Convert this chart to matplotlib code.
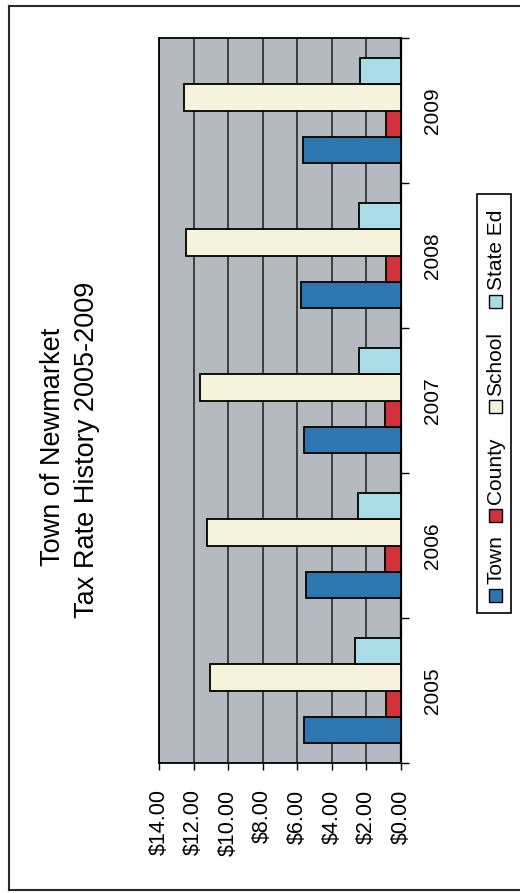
import matplotlib

matplotlib.use("Agg")
import matplotlib.pyplot as plt  # noqa: E402
import numpy as np  # noqa: E402
from matplotlib.lines import Line2D  # noqa: E402
from matplotlib.patches import Rectangle  # noqa: E402

plt.rcParams["font.family"] = ["Liberation Sans", "DejaVu Sans"]

# chart data ($ per $1000)
years = ["2005", "2006", "2007", "2008", "2009"]
series = ["Town", "County", "School", "State Ed"]
town = [5.60, 5.50, 5.60, 5.80, 5.65]
county = [0.88, 0.90, 0.90, 0.85, 0.85]
school = [11.05, 11.25, 11.65, 12.45, 12.55]
state_ed = [2.65, 2.50, 2.42, 2.45, 2.40]
value_ticks = [0, 2, 4, 6, 8, 10, 12, 14]

colors = ["#2e76b0", "#d2323c", "#f5f3dc", "#aadce8"]
W, H = 520, 893  # output size in px


def fx(x):
    return x / W


def fy(y):
    # image y (from top) -> figure fraction
    return 1 - y / H


fig = plt.figure(figsize=(W / 100, H / 100), dpi=100)
fig.patch.set_facecolor("white")

# the scanned chart is rotated 90 deg ccw: value axis runs right->left,
# categories bottom->top, all text reads upward
ax = fig.add_axes([fx(159), fy(763), fx(401) - fx(159), fy(38) - fy(763)])
ax.set_facecolor("#b5b9c0")

ypos = np.arange(len(years))
bar_h = 0.18
offsets = [-0.27, -0.09, 0.09, 0.27]
for vals, color, off, name in zip([town, county, school, state_ed], colors, offsets, series):
    ax.barh(ypos + off, vals, height=bar_h, color=color, edgecolor="black",
            linewidth=1.3, label=name, zorder=3)

ax.set_xlim(14, 0)
ax.set_ylim(-0.5, len(years) - 0.5)
ax.set_xticks(value_ticks)
ax.set_xticklabels([f"${v:.2f}" for v in value_ticks], rotation=90, fontsize=15.5)
ax.tick_params(axis="x", length=5, width=1, pad=14, direction="out")
ax.grid(axis="x", color="#1c1c1c", linewidth=1.1, zorder=1)
ax.set_axisbelow(True)

ax.yaxis.tick_right()
ax.set_yticks(ypos)
ax.set_yticklabels(years, rotation=90, va="center", fontsize=15)
ax.set_yticks(np.arange(-0.5, len(years), 1.0), minor=True)
ax.tick_params(axis="y", which="major", length=0, pad=16)
ax.tick_params(axis="y", which="minor", length=6, width=1, direction="out")
for side in ("top", "bottom", "left"):
    ax.spines[side].set_linewidth(1.3)
ax.spines["right"].set_linewidth(1.6)

# title, two rotated lines
fig.text(fx(53), fy(447), "Town of Newmarket", rotation=90, ha="center",
         va="center", fontsize=19.5)
fig.text(fx(87), fy(450), "Tax Rate History 2005-2009", rotation=90, ha="center",
         va="center", fontsize=19.5)

# legend drawn by hand so it can be rotated like the rest of the scan
fig.add_artist(Rectangle((fx(477), fy(613)), fx(511) - fx(477), fy(194) - fy(613),
                         transform=fig.transFigure, facecolor="white",
                         edgecolor="black", linewidth=1.2))
key_centres = [595, 515, 406, 301]
key = 13
for name, color, yc in zip(series, colors, key_centres):
    fig.add_artist(Rectangle((fx(495 - key / 2), fy(yc + key / 2)), fx(key), key / H,
                             transform=fig.transFigure, facecolor=color,
                             edgecolor="black", linewidth=1))
    fig.text(fx(496), fy(yc - key / 2 - 4), name, rotation=90, ha="center",
             va="bottom", fontsize=15)

# scan frame
for xs, ys in [((9, 9), (6, 890)), ((9, 520), (6, 6)), ((9, 520), (890, 890))]:
    fig.add_artist(Line2D([fx(x) for x in xs], [fy(y) for y in ys],
                          transform=fig.transFigure, color="#2a2a2a", linewidth=1.5))

fig.savefig("out.png", dpi=100)
